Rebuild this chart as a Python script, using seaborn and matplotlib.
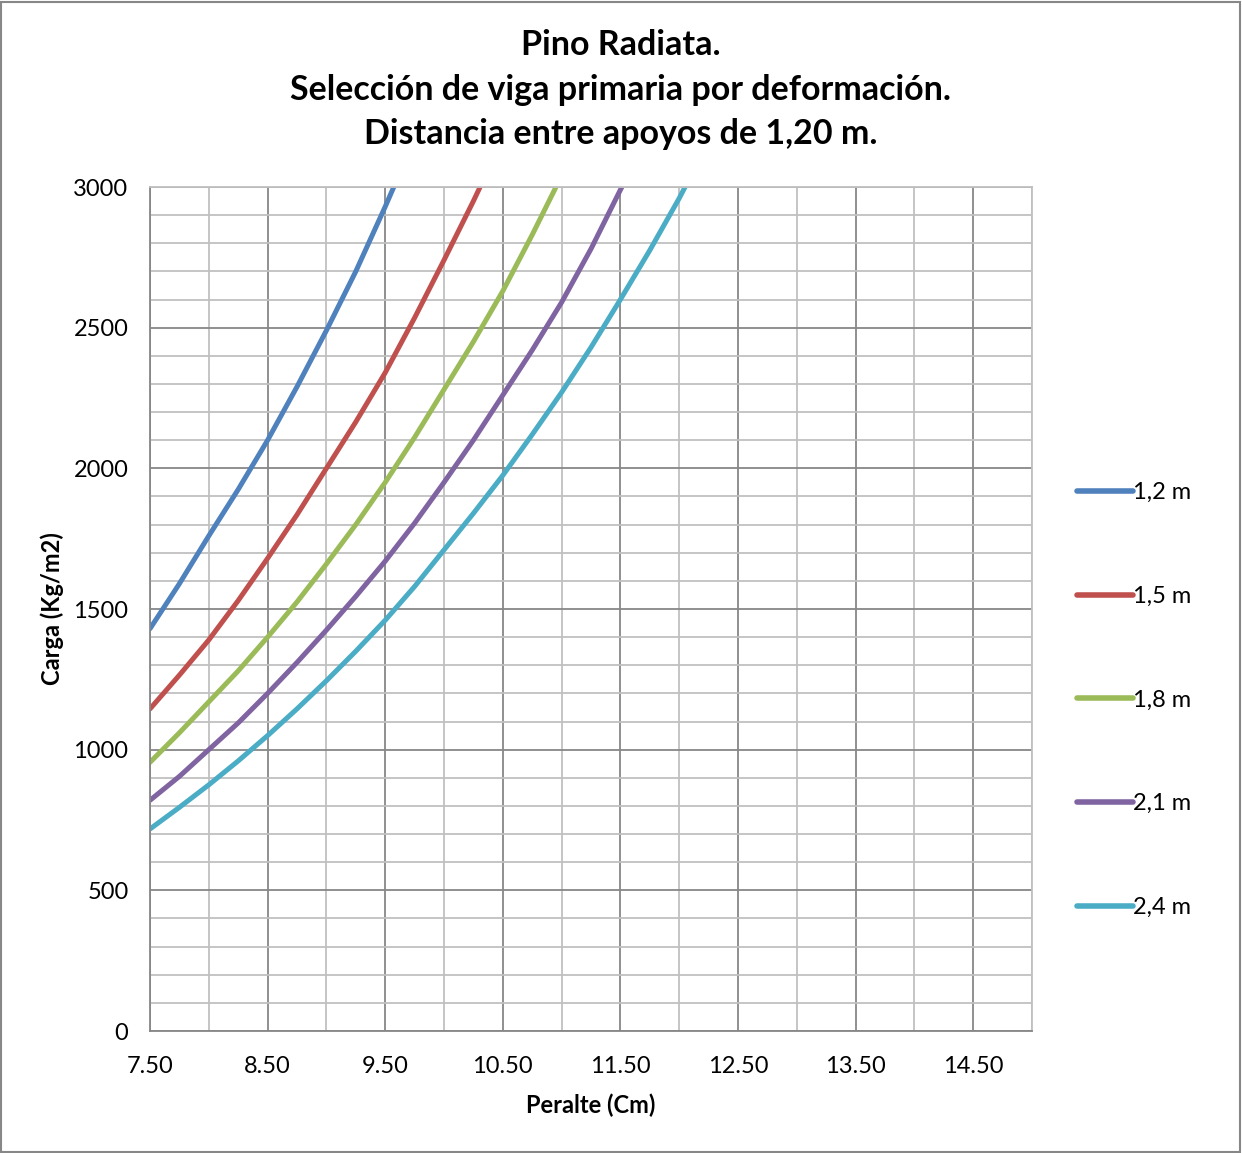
import numpy as np
import pandas as pd
import matplotlib
matplotlib.use("Agg")
import matplotlib.pyplot as plt
from matplotlib.ticker import MultipleLocator, FixedLocator
from matplotlib.patches import Rectangle
import seaborn as sns

# ---- data ----
peralte = [7.5, 7.75, 8.0, 8.25, 8.5, 8.75, 9.0, 9.25, 9.5, 9.75,
           10.0, 10.25, 10.5, 10.75, 11.0, 11.25, 11.5, 11.75, 12.0, 12.25]
carga_12 = [1430, 1590, 1760, 1925, 2100, 2290, 2490, 2700, 2930, 3170]
carga_15 = [1145, 1265, 1390, 1530, 1680, 1835, 2000, 2165, 2340, 2535,
            2740, 2950, 3170]
carga_18 = [955, 1060, 1170, 1280, 1400, 1525, 1660, 1800, 1950, 2110,
            2280, 2450, 2630, 2830, 3040]
carga_21 = [820, 905, 1000, 1095, 1200, 1310, 1425, 1545, 1670, 1805,
            1950, 2100, 2260, 2420, 2590, 2780, 2990, 3190]
carga_24 = [718, 795, 875, 960, 1050, 1145, 1245, 1350, 1460, 1580,
            1710, 1840, 1975, 2120, 2270, 2430, 2600, 2775, 2960, 3160]
series_labels = ["1,2 m", "1,5 m", "1,8 m", "2,1 m", "2,4 m"]
colors = ["#4F81BD", "#C0504D", "#9BBB59", "#8064A2", "#4BACC6"]
x_ticks = [7.5, 8.5, 9.5, 10.5, 11.5, 12.5, 13.5, 14.5]
title_lines = ["Pino Radiata.",
               "Selección de viga primaria por deformación.",
               "Distancia entre apoyos de 1,20 m."]

rows = []
for lab, vals in zip(series_labels, [carga_12, carga_15, carga_18, carga_21, carga_24]):
    for x, v in zip(peralte, vals):
        rows.append({"Peralte": x, "Carga": v, "Serie": lab})
df = pd.DataFrame(rows)

sns.set_theme(style="white")
plt.rcParams['font.family'] = ['Lato', 'DejaVu Sans']
plt.rcParams['text.color'] = 'black'
plt.rcParams['axes.labelcolor'] = 'black'
plt.rcParams['xtick.color'] = 'black'
plt.rcParams['ytick.color'] = 'black'

fig = plt.figure(figsize=(12.42, 11.53), dpi=100)
ax = fig.add_axes([150/1242, 1-1031/1153, (1032-150)/1242, (1031-187)/1153])

sns.lineplot(data=df, x="Peralte", y="Carga", hue="Serie", hue_order=series_labels,
             palette=colors, linewidth=3.6, ax=ax, estimator=None, sort=True)

ax.set_xlim(7.5, 15.0)
ax.set_ylim(0, 3000)
ax.xaxis.set_major_locator(FixedLocator(x_ticks))
ax.xaxis.set_minor_locator(FixedLocator([8.0, 9.0, 10.0, 11.0, 12.0, 13.0, 14.0, 15.0]))
ax.yaxis.set_major_locator(MultipleLocator(500))
ax.yaxis.set_minor_locator(MultipleLocator(100))
ax.set_xticklabels([f"{t:.2f}" for t in x_ticks])

ax.grid(which="major", color="#878787", linewidth=1.3)
ax.grid(which="minor", color="#c0c0c0", linewidth=1.3)
ax.set_axisbelow(True)
for s in ax.spines.values():
    s.set_color("#878787")
    s.set_linewidth(1.3)
ax.spines["top"].set_color("#c0c0c0")
ax.spines["right"].set_color("#c0c0c0")
ax.tick_params(which="both", length=0, labelsize=17, colors="black", labelcolor="black")
ax.tick_params(axis="y", pad=15.5)
ax.tick_params(axis="x", pad=18)

ax.set_xlabel("Peralte (Cm)", fontsize=17, fontweight="bold", va="center", color="black")
ax.set_ylabel("Carga (Kg/m2)", fontsize=17, fontweight="bold", va="center", color="black")
ax.xaxis.set_label_coords(0.5, (1031-1105)/844)
ax.yaxis.set_label_coords((52-150)/882, 0.5)

for line, yb in zip(title_lines, [55, 100, 144]):
    fig.text(0.5, 1 - yb/1153, line, ha="center", va="baseline",
             fontsize=24.5, fontweight="bold", color="black")

leg = ax.legend(loc="center left", bbox_to_anchor=(1.027, (1031-700)/844), frameon=False,
                fontsize=17, labelspacing=3.5, handlelength=2.35, handletextpad=0.0)
for h in leg.get_lines():
    h.set_linewidth(4)
for t in leg.get_texts():
    t.set_color("black")

fig.patches.append(Rectangle((0.001, 0.001), 0.997, 0.997, transform=fig.transFigure,
                             fill=False, edgecolor="#878787", linewidth=1.5))

fig.savefig("out.png", dpi=100)
